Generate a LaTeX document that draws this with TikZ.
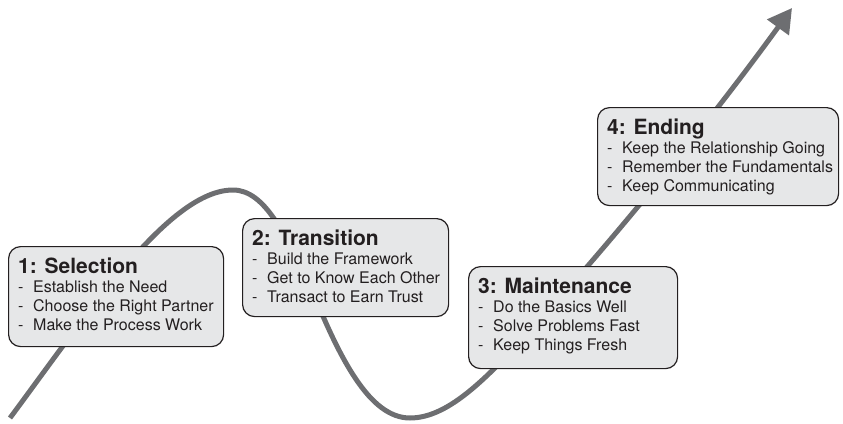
\documentclass[tikz,border=0pt]{standalone}
\usepackage{fontspec}
\setmainfont{TeX Gyre Heros}
\usetikzlibrary{calc,arrows.meta}

\definecolor{trackgray}{HTML}{6D6E71}
\definecolor{cardfill}{HTML}{E6E7E8}
\definecolor{inkdark}{HTML}{231F20}

\tikzset{
  track/.style={draw=trackgray, line width=5pt, -{Triangle[length=24pt,width=26pt]}},
  card/.style={draw=inkdark, fill=cardfill, line width=1.2pt, rounded corners=12pt,
               rectangle, inner sep=0pt},
  cardtitle/.style={anchor=base west, inner sep=0pt, text=inkdark,
                    font=\fontsize{21}{24}\selectfont\bfseries},
  carditem/.style={anchor=base west, inner sep=0pt, text=inkdark,
                   font=\fontsize{16}{19}\selectfont},
}

% name, x, y, width, height, title, three bullet lines
\newcommand{\stagecard}[9]{%
  \node[card, minimum width=#4pt, minimum height=#5pt, anchor=north west] (#1) at (#2,#3) {};
  \node[cardtitle] (#1-t) at ($(#1.north west)+(10,27)$) {#6};
  \node[carditem] (#1-a) at ($(#1.north west)+(10,46)$) {\makebox[15pt][l]{-}#7};
  \node[carditem] (#1-b) at ($(#1.north west)+(10,65)$) {\makebox[15pt][l]{-}#8};
  \node[carditem] (#1-c) at ($(#1.north west)+(10,84)$) {\makebox[15pt][l]{-}#9};
}

\begin{document}
\begin{tikzpicture}[x=1pt, y=-1pt]
  \useasboundingbox (0,0) rectangle (843,423);

  % the relationship curve with its arrow
  \coordinate (start) at (10,418);
  \coordinate (peak) at (233,190);
  \coordinate (fall) at (310,285);
  \coordinate (trough) at (410,418);
  \coordinate (rise) at (540,320);
  \coordinate (tip) at (792,8);
  \draw[track] (start)
      .. controls (90,310) and (170,190) .. (peak)
      .. controls (265,190) and (285,235) .. (fall)
      .. controls (340,360) and (370,418) .. (trough)
      .. controls (450,418) and (490,375) .. (rise)
      .. controls (600,254) and (700,135) .. (tip);

  % stage cards
  \stagecard{sel}{8}{246}{215}{100}{1: Selection}
    {Establish the Need}{Choose the Right Partner}{Make the Process Work}
  \stagecard{tra}{242}{218}{206}{98}{2: Transition}
    {Build the Framework}{Get to Know Each Other}{Transact to Earn Trust}
  \stagecard{mai}{468}{266}{209}{102}{3: Maintenance}
    {Do the Basics Well}{Solve Problems Fast}{Keep Things Fresh}
  \stagecard{end}{597}{107}{241}{98}{4: Ending}
    {Keep the Relationship Going}{Remember the Fundamentals}{Keep Communicating}
\end{tikzpicture}
\end{document}
